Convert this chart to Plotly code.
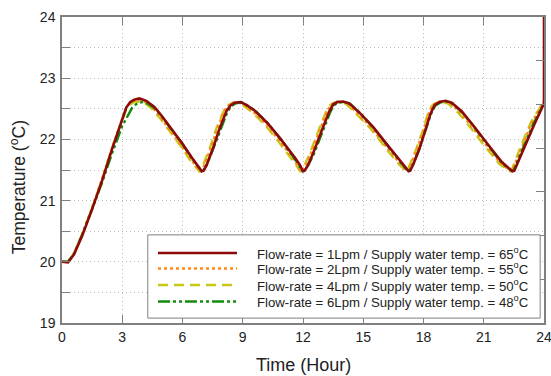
import plotly.graph_objects as go

# (time [h], temperature [°C])
red_1lpm = [(0,20.00),(0.3,19.99),(0.6,20.12),(1.0,20.42),(1.5,20.86),(2.0,21.33),(2.5,21.85),(3.0,22.33),(3.2,22.52),(3.4,22.61),(3.6,22.65),(3.85,22.67),(4.2,22.63),(4.6,22.53),(5.0,22.37),(5.5,22.15),(6.0,21.93),(6.45,21.71),(6.8,21.55),(6.96,21.48),(7.05,21.49),(7.2,21.58),(7.5,21.84),(7.85,22.18),(8.2,22.47),(8.4,22.56),(8.6,22.60),(8.9,22.61),(9.2,22.56),(9.6,22.47),(10.25,22.26),(10.9,22.0),(11.6,21.70),(11.85,21.58),(12.0,21.48),(12.08,21.49),(12.25,21.58),(12.5,21.77),(13.0,22.20),(13.3,22.45),(13.5,22.57),(13.7,22.61),(14.0,22.62),(14.3,22.59),(14.8,22.44),(15.5,22.20),(16.15,21.93),(16.8,21.66),(17.1,21.55),(17.26,21.48),(17.34,21.49),(17.5,21.60),(17.8,21.85),(18.1,22.15),(18.35,22.42),(18.55,22.56),(18.8,22.61),(19.1,22.63),(19.4,22.60),(19.9,22.46),(20.5,22.22),(21.2,21.92),(21.9,21.63),(22.25,21.53),(22.44,21.48),(22.52,21.49),(22.7,21.63),(23.0,21.87),(23.5,22.23),(24.0,22.59),(24.0,30.0)]
orange_2lpm = [(0,20.00),(0.3,20.00),(0.6,20.14),(1.0,20.45),(1.5,20.89),(2.0,21.36),(2.5,21.87),(3.0,22.35),(3.2,22.52),(3.4,22.60),(3.6,22.64),(3.8,22.65),(4.1,22.62),(4.5,22.52),(4.9,22.36),(5.4,22.14),(5.9,21.92),(6.35,21.70),(6.7,21.55),(6.87,21.48),(6.96,21.49),(7.1,21.59),(7.4,21.85),(7.75,22.19),(8.1,22.48),(8.3,22.56),(8.5,22.60),(8.8,22.61),(9.1,22.56),(9.5,22.46),(10.15,22.25),(10.8,21.99),(11.5,21.69),(11.75,21.57),(11.9,21.48),(11.98,21.49),(12.15,21.59),(12.4,21.78),(12.9,22.21),(13.2,22.46),(13.4,22.57),(13.6,22.61),(13.9,22.62),(14.2,22.59),(14.7,22.43),(15.4,22.19),(16.05,21.92),(16.7,21.65),(17.0,21.54),(17.16,21.48),(17.24,21.49),(17.4,21.61),(17.7,21.86),(18.0,22.14),(18.25,22.42),(18.45,22.56),(18.7,22.61),(19.0,22.63),(19.3,22.60),(19.8,22.45),(20.4,22.21),(21.1,21.91),(21.8,21.62),(22.15,21.53),(22.34,21.48),(22.42,21.49),(22.6,21.64),(22.9,21.89),(23.4,22.28),(24.0,22.62)]
yellow_4lpm = [(0,20.00),(0.3,20.00),(0.6,20.13),(1.0,20.44),(1.5,20.88),(2.0,21.35),(2.5,21.86),(3.0,22.32),(3.2,22.49),(3.4,22.57),(3.6,22.61),(3.85,22.62),(4.1,22.60),(4.45,22.51),(4.85,22.36),(5.35,22.14),(5.85,21.92),(6.3,21.70),(6.65,21.55),(6.83,21.48),(6.92,21.49),(7.05,21.59),(7.35,21.85),(7.7,22.19),(8.05,22.46),(8.25,22.55),(8.45,22.59),(8.75,22.60),(9.05,22.55),(9.45,22.45),(10.1,22.24),(10.75,21.98),(11.45,21.68),(11.7,21.56),(11.86,21.48),(11.94,21.49),(12.1,21.59),(12.35,21.78),(12.85,22.21),(13.15,22.45),(13.35,22.56),(13.55,22.60),(13.85,22.61),(14.15,22.58),(14.65,22.42),(15.35,22.18),(16.0,21.91),(16.65,21.64),(16.95,21.54),(17.12,21.48),(17.2,21.49),(17.36,21.61),(17.66,21.86),(17.96,22.14),(18.22,22.42),(18.42,22.55),(18.65,22.60),(18.95,22.61),(19.25,22.58),(19.75,22.43),(20.35,22.19),(21.05,21.89),(21.75,21.61),(22.1,21.52),(22.3,21.48),(22.38,21.49),(22.55,21.64),(22.85,21.89),(23.35,22.28),(24.0,22.62)]
green_6lpm = [(0,20.00),(0.3,20.00),(0.6,20.14),(1.0,20.44),(1.5,20.86),(2.0,21.30),(2.5,21.78),(3.0,22.22),(3.3,22.40),(3.5,22.52),(3.75,22.59),(4.0,22.61),(4.3,22.58),(4.65,22.50),(5.0,22.36),(5.5,22.14),(6.0,21.92),(6.45,21.70),(6.78,21.55),(6.95,21.48),(7.03,21.49),(7.2,21.58),(7.5,21.82),(7.9,22.17),(8.25,22.46),(8.45,22.55),(8.65,22.59),(8.95,22.60),(9.25,22.55),(9.65,22.46),(10.25,22.26),(10.9,22.0),(11.55,21.71),(11.8,21.58),(11.97,21.48),(12.05,21.49),(12.25,21.57),(12.55,21.77),(13.05,22.19),(13.35,22.44),(13.55,22.56),(13.75,22.60),(14.05,22.61),(14.35,22.58),(14.85,22.43),(15.5,22.19),(16.15,21.92),(16.78,21.65),(17.05,21.55),(17.22,21.48),(17.3,21.49),(17.48,21.59),(17.8,21.85),(18.1,22.13),(18.38,22.42),(18.58,22.55),(18.82,22.60),(19.12,22.62),(19.42,22.59),(19.9,22.45),(20.5,22.21),(21.2,21.91),(21.85,21.63),(22.2,21.53),(22.4,21.48),(22.48,21.49),(22.66,21.63),(22.96,21.87),(23.46,22.25),(24.0,22.59)]

series_names = [
    "Flow-rate = 1Lpm / Supply water temp. = 65<sup>o</sup>C",
    "Flow-rate = 2Lpm / Supply water temp. = 55<sup>o</sup>C",
    "Flow-rate = 4Lpm / Supply water temp. = 50<sup>o</sup>C",
    "Flow-rate = 6Lpm / Supply water temp. = 48<sup>o</sup>C",
]
x_ticks = [0, 3, 6, 9, 12, 15, 18, 21, 24]
y_ticks = [19, 20, 21, 22, 23, 24]

series = [red_1lpm, orange_2lpm, yellow_4lpm, green_6lpm]
colors = ["#8B0A0A", "#FF8C1A", "#C8C814", "#118C11"]
dashes = ["solid", "dot", "10px,6px", "12px,3px,3px,3px,3px,3px"]
widths = [2.6, 2.4, 2.4, 2.4]

fig = go.Figure()
# draw in reverse order so the red line sits on top like the reference
for i in [2, 1, 3, 0]:
    xs = [p[0] for p in series[i]]
    ys = [p[1] for p in series[i]]
    fig.add_trace(go.Scatter(x=xs, y=ys, mode="lines", name=series_names[i],
                             line=dict(color=colors[i], width=widths[i], dash=dashes[i]),
                             showlegend=False))
# invisible trace for right-side tick axis
fig.add_trace(go.Scatter(x=[0], y=[0], yaxis="y2", mode="markers",
                         marker=dict(opacity=0), showlegend=False, hoverinfo="skip"))

font = "Liberation Sans, Arial, sans-serif"
axis_col = "#808080"
grid_col = "#BDBDBD"
grid_dash = "1px,3px"

fig.update_layout(
    width=551, height=376,
    margin=dict(l=62, r=7, t=17, b=53, autoexpand=False),
    paper_bgcolor="white", plot_bgcolor="white",
    font=dict(family=font, size=14, color="#222222"),
    xaxis=dict(range=[0, 24], tickvals=x_ticks, ticktext=[str(v) for v in x_ticks],
               ticks="inside", ticklen=8, tickcolor=axis_col, tickwidth=1,
               showline=True, linecolor=axis_col, linewidth=1.5, mirror="ticks",
               showgrid=True, gridcolor=grid_col, griddash=grid_dash, gridwidth=1,
               zeroline=False, automargin=False, ticklabeloverflow="allow",
               tickfont=dict(size=14, family=font, color="#222222")),
    yaxis=dict(range=[19, 24], tickvals=y_ticks, ticktext=[str(v) for v in y_ticks],
               ticks="inside", ticklen=8, tickcolor=axis_col, tickwidth=1,
               showline=True, linecolor=axis_col, linewidth=1.5, mirror=True,
               showgrid=True, gridcolor=grid_col, griddash=grid_dash, gridwidth=1,
               minor=dict(dtick=0.5, ticks="inside", ticklen=8, tickcolor=axis_col,
                          showgrid=True, gridcolor=grid_col, griddash=grid_dash),
               zeroline=False, ticklabelstandoff=2, automargin=False,
               ticklabeloverflow="allow",
               tickfont=dict(size=14, family=font, color="#222222")),
    yaxis2=dict(range=[0, 7], dtick=1, overlaying="y", side="right",
                ticks="inside", ticklen=8, tickcolor=axis_col, showticklabels=False,
                showgrid=False, zeroline=False, showline=False, automargin=False),
)

# axis titles
fig.add_annotation(text="Time (Hour)", xref="paper", yref="paper", x=0.5, y=-0.137,
                   showarrow=False, font=dict(size=18, family=font, color="#222222"),
                   xanchor="center", yanchor="middle")
fig.add_annotation(text="Temperature (<sup>o</sup>C)", xref="paper", yref="paper",
                   x=-0.091, y=0.444, textangle=-90, showarrow=False,
                   font=dict(size=17.5, family=font, color="#222222"),
                   xanchor="center", yanchor="middle")

# legend box drawn manually
fig.add_shape(type="rect", xref="paper", yref="paper", x0=0.178, x1=0.992, y0=0.016, y1=0.288,
              line=dict(color=axis_col, width=1), fillcolor="white", layer="above")
row_px = [253, 268.5, 285, 301.5]
for i in range(4):
    yy = (323 - row_px[i]) / 306
    fig.add_shape(type="line", xref="paper", yref="paper", x0=(158 - 62) / 482, x1=(237 - 62) / 482,
                  y0=yy, y1=yy, line=dict(color=colors[i], width=widths[i], dash=dashes[i]),
                  layer="above")
    fig.add_annotation(text=series_names[i], xref="paper", yref="paper",
                       x=(255 - 62) / 482, y=yy, xanchor="left", yanchor="middle",
                       showarrow=False, font=dict(size=13.2, family=font, color="#222222"))

fig.write_html("out.html", config={"displayModeBar": False},
               post_script="document.body.style.margin='0px';")
